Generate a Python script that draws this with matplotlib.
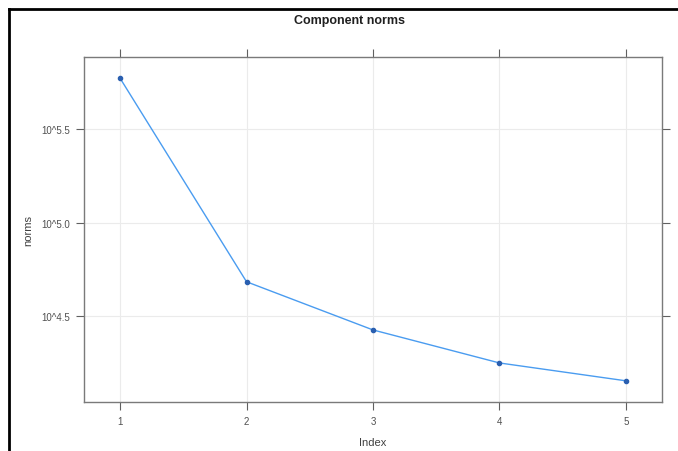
import numpy as np
import matplotlib
matplotlib.use("Agg")
import matplotlib.pyplot as plt
from matplotlib.lines import Line2D

# datos (escala log10)
indices = [1, 2, 3, 4, 5]
norms = [594000, 48200, 26600, 17700, 14200]
ytick_exps = [4.5, 5.0, 5.5]
ytick_labels = ["10^4.5", "10^5.0", "10^5.5"]

plt.rcParams['font.family'] = ['Liberation Sans', 'DejaVu Sans']

W, H = 678, 452
fig = plt.figure(figsize=(W / 100, H / 100), dpi=100)

# panel tipo lattice
ax = fig.add_axes([84 / W, 1 - 403 / H, (662 - 84) / W, (403 - 58) / H])
ax.set_yscale('log')

ax.plot(indices, norms, color='#4a9cf0', lw=1.0, zorder=3)
ax.plot(indices, norms, 'o', color='#2a5fb0', ms=3, zorder=4)

# limites con el relleno de lattice (7%)
ax.set_xlim(0.715, 5.285)
lo, hi = np.log10(min(norms)), np.log10(max(norms))
pad = 0.07 * (hi - lo)
ax.set_ylim(10 ** (lo - pad), 10 ** (hi + pad))

ax.set_xticks(indices)
ax.set_xticklabels([str(i) for i in indices])
ax.set_yticks([10 ** e for e in ytick_exps])
ax.set_yticklabels(ytick_labels)
ax.yaxis.set_minor_locator(matplotlib.ticker.NullLocator())

ax.tick_params(axis='both', which='major', direction='out', length=6, width=0.8,
               color='#606060', labelcolor='#505050', labelsize=7,
               top=True, right=True, pad=4)

ax.grid(True, color='#ebebeb', lw=0.8, zorder=0)
ax.set_axisbelow(True)
for s in ax.spines.values():
    s.set_color('#7a7a7a')
    s.set_linewidth(1.0)

ax.set_xlabel('Index', fontsize=8, color='#404040', labelpad=8)
ax.set_ylabel('norms', fontsize=8, color='#404040', labelpad=6)

fig.text(350 / W, 1 - 21 / H, 'Component norms', ha='center', va='center',
         fontsize=9, fontweight='bold', color='#202020')

# marco negro de la captura
fig.add_artist(Line2D([9 / W, 9 / W], [0, 1 - 10 / H], transform=fig.transFigure,
                      color='black', lw=2.0))
fig.add_artist(Line2D([9 / W, 1], [1 - 10 / H, 1 - 10 / H], transform=fig.transFigure,
                      color='black', lw=2.0))

fig.savefig('out.png', dpi=100)
